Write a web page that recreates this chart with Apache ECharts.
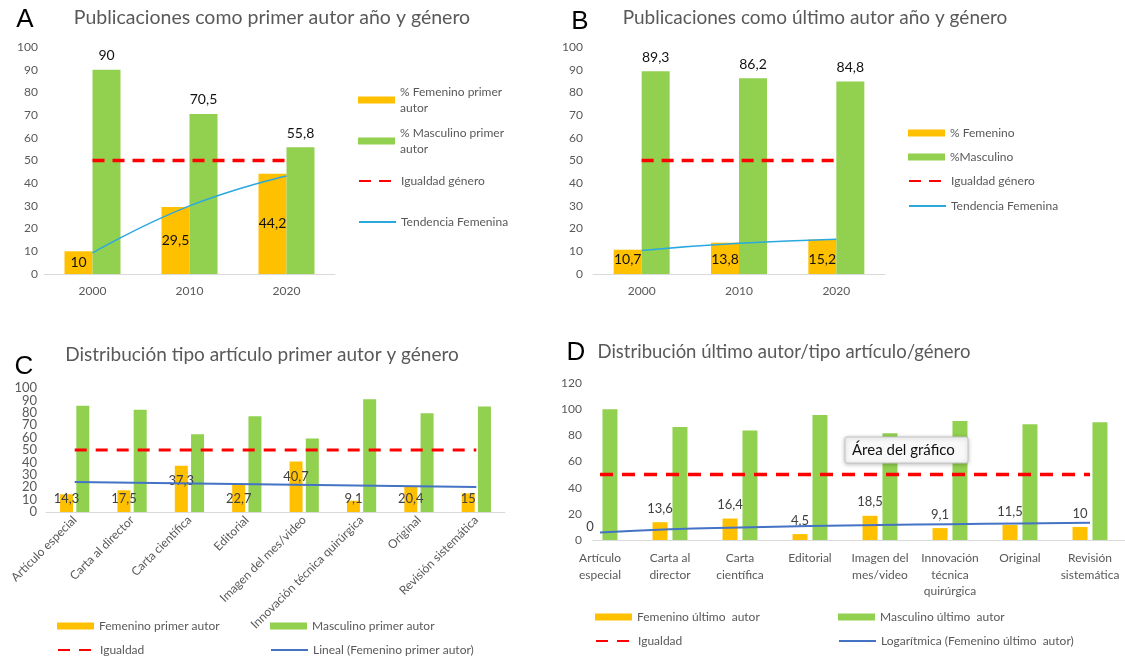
<!DOCTYPE html>
<html><head><meta charset="utf-8">
<script src="https://cdn.jsdelivr.net/npm/echarts@6/dist/echarts.min.js"></script>
<style>html,body{margin:0;padding:0;background:#fff}#c{width:1125px;height:661px}</style>
</head><body><div id="c"></div>
<script>
// ---- data ----
const years = ['2000', '2010', '2020'];
const femFirstYear = [10, 29.5, 44.2];
const mascFirstYear = [90, 70.5, 55.8];
const trendFirstYear = [9.3, 30, 43.2];
const femLastYear = [10.7, 13.8, 15.2];
const mascLastYear = [89.3, 86.2, 84.8];
const trendLastYear = [10.4, 13.5, 15.3];
const equalityYear = [50, 50, 50];

const articleTypes = ['Artículo especial', 'Carta al director', 'Carta científica', 'Editorial', 'Imagen del mes/video', 'Innovación técnica quirúrgica', 'Original', 'Revisión sistemática'];
const articleTypesWrapped = ['Artículo\nespecial', 'Carta al\ndirector', 'Carta\ncientífica', 'Editorial', 'Imagen del\nmes/video', 'Innovación\ntécnica\nquirúrgica', 'Original', 'Revisión\nsistemática'];
const femFirstType = [14.3, 17.5, 37.3, 22.7, 40.7, 9.1, 20.4, 15];
const mascFirstType = [85.7, 82.5, 62.7, 77.3, 59.3, 90.9, 79.6, 85];
const linearFirstType = [24.1, null, null, null, null, null, null, 20.2];
const femLastType = [0, 13.6, 16.4, 4.5, 18.5, 9.1, 11.5, 10];
const mascLastType = [100, 86.4, 83.6, 95.5, 81.5, 90.9, 88.5, 90];
const logLastType = [5.8, 8.2, 9.6, 10.7, 11.5, 12.1, 12.7, 13.2];
const equalityType = [50, 50, 50, 50, 50, 50, 50, 50];

// ---- styles ----
const FONT = 'Lato, "Open Sans", sans-serif';
const YEL = '#FFC000', GRN = '#92D050', RED = '#FF0000', LBLUE = '#2AA8E0', DBLUE = '#4472C4', GRAY = '#595959', AX = '#d9d9d9';
const fmt = v => String(v).replace('.', ',');

function lg(name, left, cy, o) {
  o = o || {};
  const two = !!o.label && o.label.indexOf('\n') >= 0;
  const item = { name: name };
  if (o.icon) item.icon = o.icon; else item.itemStyle = { opacity: 0 };
  const L = {
    data: [item], left: left, top: cy - (two ? 24 : 8), padding: 0,
    itemWidth: 37, itemHeight: 7, itemGap: 0, selectedMode: false,
    textStyle: { fontFamily: FONT, fontSize: o.fs || 12, color: GRAY, lineHeight: 16, padding: two ? [16, 0, 0, 0] : 0 }
  };
  if (o.label) L.formatter = () => o.label;
  return L;
}
function title(text, x, y, size, color, family) {
  return { text: text, left: x, top: y, textAlign: 'center', padding: 0,
    textStyle: { fontSize: size, fontWeight: 'normal', color: color, fontFamily: family || FONT } };
}
function catAxis(grid, data, extra) {
  return Object.assign({ type: 'category', gridIndex: grid, data: data, axisTick: { show: false },
    axisLine: { lineStyle: { color: AX, width: 1 } },
    axisLabel: { color: GRAY, fontSize: 12, fontFamily: FONT, margin: 11, interval: 0 } }, extra || {});
}
function valAxis(grid, max, interval, margin, fs) {
  return { type: 'value', gridIndex: grid, position: 'left', offset: 0, min: 0, max: max, interval: interval,
    splitLine: { show: false }, axisLine: { show: false }, axisTick: { show: false },
    axisLabel: { color: GRAY, fontSize: fs || 12, fontFamily: FONT, margin: margin, showMinLabel: true, showMaxLabel: true } };
}
const eqStyle = (w, d) => ({ type: 'line', symbol: 'none', lineStyle: { color: RED, width: w, type: d }, itemStyle: { color: RED }, z: 3 });
const LETTER = '"Liberation Sans", Arial, sans-serif';

// panel C: even tens on one axis, odd tens on an overlaid twin axis (labels are packed tightly)
const yC = valAxis(2, 100, 20, 9, 13);
const yCodd = valAxis(2, 100, 10, 9, 13);
yCodd.axisLabel.showMinLabel = false;
yCodd.axisLabel.showMaxLabel = false;
yCodd.axisLabel.formatter = v => ((v / 10) % 2 === 1 ? String(v) : '');

const option = {
  animation: false,
  backgroundColor: '#fff',
  title: [
    title('A', 25, 7, 26, '#000', LETTER),
    title('Publicaciones como primer autor año y género', 272, 8, 19.5, GRAY),
    title('B', 580, 9, 26, '#000', LETTER),
    title('Publicaciones como último autor año y género', 815, 8, 19, GRAY),
    title('C', 24, 354, 26, '#000', LETTER),
    title('Distribución tipo artículo primer autor y género', 262, 345, 19, GRAY),
    title('D', 576, 340, 26, '#000', LETTER),
    title('Distribución último autor/tipo artículo/género', 784, 343, 18.5, GRAY)
  ],
  legend: [
    lg('% Femenino primer autor', 358, 100, { icon: 'rect', label: '% Femenino primer\nautor' }),
    lg('% Masculino primer autor', 358, 141, { icon: 'rect', label: '% Masculino primer\nautor' }),
    lg('Igualdad género', 358, 181),
    lg('Tendencia Femenina', 358, 222),
    lg('% Femenino', 908, 133, { icon: 'rect' }),
    lg('%Masculino', 908, 157, { icon: 'rect' }),
    lg('Igualdad género', 908, 181),
    lg('Tendencia Femenina', 908, 206),
    lg('Femenino primer autor', 57, 626, { icon: 'rect' }),
    lg('Masculino primer autor', 270, 626, { icon: 'rect' }),
    lg('Igualdad', 57, 650),
    lg('Lineal (Femenino primer autor)', 270, 650),
    lg('Femenino último  autor', 595, 617, { icon: 'rect' }),
    lg('Masculino último  autor', 838, 617, { icon: 'rect' }),
    lg('Igualdad', 595, 641),
    lg('Logarítmica (Femenino último  autor)', 838, 641)
  ],
  grid: [
    { left: 44, top: 47, width: 291, height: 227 },
    { left: 593, top: 47, width: 292, height: 227 },
    { left: 46, top: 388, width: 459, height: 124 },
    { left: 565, top: 383, width: 560, height: 157 },
    { left: 593, top: 383, width: 532, height: 157 }
  ],
  xAxis: [
    catAxis(0, years),
    catAxis(1, years),
    catAxis(2, articleTypes, { axisLabel: { color: GRAY, fontSize: 12, fontFamily: FONT, margin: 6, interval: 0, rotate: 45 } }),
    catAxis(3, articleTypesWrapped, { axisLine: { show: false }, axisLabel: { color: GRAY, fontSize: 12, fontFamily: FONT, margin: 10, interval: 0, lineHeight: 16.5 } }),
    catAxis(4, articleTypes, { axisLabel: { show: false } })
  ],
  yAxis: [
    valAxis(0, 100, 10, 6),
    valAxis(1, 100, 10, 10),
    yC,
    valAxis(3, 120, 20, -17),
    Object.assign(valAxis(4, 120, 20, 0), { show: false }),
    yCodd
  ],
  series: [
    // A
    { type: 'bar', name: '% Femenino primer autor', xAxisIndex: 0, yAxisIndex: 0, data: femFirstYear, barWidth: 28, barGap: '0%', itemStyle: { color: YEL },
      label: { show: true, position: 'inside', formatter: p => fmt(p.value), fontSize: 14, color: '#111', fontFamily: FONT } },
    { type: 'bar', name: '% Masculino primer autor', xAxisIndex: 0, yAxisIndex: 0, data: mascFirstYear, barWidth: 28, barGap: '0%', itemStyle: { color: GRN },
      label: { show: true, position: 'top', distance: 7, formatter: p => fmt(p.value), fontSize: 14, color: '#111', fontFamily: FONT } },
    Object.assign(eqStyle(3.5, [12, 8]), { name: 'Igualdad género', xAxisIndex: 0, yAxisIndex: 0, data: equalityYear }),
    { type: 'line', name: 'Tendencia Femenina', xAxisIndex: 0, yAxisIndex: 0, data: trendFirstYear, smooth: true, symbol: 'none', lineStyle: { color: LBLUE, width: 1.5 }, itemStyle: { color: LBLUE }, z: 4 },
    // B
    { type: 'bar', name: '% Femenino', xAxisIndex: 1, yAxisIndex: 1, data: femLastYear, barWidth: 28, barGap: '0%', itemStyle: { color: YEL },
      label: { show: true, position: 'insideBottom', distance: 8, formatter: p => fmt(p.value), fontSize: 14, color: '#111', fontFamily: FONT } },
    { type: 'bar', name: '%Masculino', xAxisIndex: 1, yAxisIndex: 1, data: mascLastYear, barWidth: 28, barGap: '0%', itemStyle: { color: GRN },
      label: { show: true, position: 'top', distance: 7, formatter: p => fmt(p.value), fontSize: 14, color: '#111', fontFamily: FONT } },
    Object.assign(eqStyle(3.5, [12, 8]), { name: 'Igualdad género', xAxisIndex: 1, yAxisIndex: 1, data: equalityYear }),
    { type: 'line', name: 'Tendencia Femenina', xAxisIndex: 1, yAxisIndex: 1, data: trendLastYear, smooth: true, symbol: 'none', lineStyle: { color: LBLUE, width: 1.5 }, itemStyle: { color: LBLUE }, z: 4 },
    // C
    { type: 'bar', name: 'Femenino primer autor', xAxisIndex: 2, yAxisIndex: 2, barWidth: 13, barGap: '25%', itemStyle: { color: YEL },
      data: femFirstType.map(v => ({ value: v, label: { position: v > 30 ? 'insideTop' : 'insideBottom', distance: v > 30 ? 9 : 7 } })),
      label: { show: true, formatter: p => fmt(p.value), fontSize: 13, color: '#404040', fontFamily: FONT } },
    { type: 'bar', name: 'Masculino primer autor', xAxisIndex: 2, yAxisIndex: 2, data: mascFirstType, barWidth: 13, barGap: '25%', itemStyle: { color: GRN } },
    Object.assign(eqStyle(3, [12, 9]), { name: 'Igualdad', xAxisIndex: 2, yAxisIndex: 2, data: equalityType }),
    { type: 'line', name: 'Lineal (Femenino primer autor)', xAxisIndex: 2, yAxisIndex: 2, data: linearFirstType, connectNulls: true, symbol: 'none', lineStyle: { color: DBLUE, width: 2 }, itemStyle: { color: DBLUE }, z: 4 },
    // D
    { type: 'bar', name: 'Femenino último  autor', xAxisIndex: 3, yAxisIndex: 3, data: femLastType, barWidth: 15, barGap: '33%', itemStyle: { color: YEL },
      label: { show: true, position: 'top', distance: 7, formatter: p => fmt(p.value), fontSize: 13, color: '#404040', fontFamily: FONT } },
    { type: 'bar', name: 'Masculino último  autor', xAxisIndex: 3, yAxisIndex: 3, data: mascLastType, barWidth: 15, barGap: '33%', itemStyle: { color: GRN } },
    Object.assign(eqStyle(3.5, [13, 9]), { name: 'Igualdad', xAxisIndex: 3, yAxisIndex: 3, data: equalityType }),
    { type: 'line', name: 'Logarítmica (Femenino último  autor)', xAxisIndex: 3, yAxisIndex: 3, data: logLastType, smooth: true, symbol: 'none', lineStyle: { color: DBLUE, width: 2 }, itemStyle: { color: DBLUE }, z: 4 }
  ],
  graphic: [
    { type: 'rect', shape: { x: 845, y: 437, width: 123, height: 26, r: 2 }, z: 100,
      style: { fill: '#f8f8f8', stroke: '#c4c4c4', lineWidth: 1, shadowBlur: 4, shadowOffsetY: 1, shadowColor: 'rgba(0,0,0,0.25)' } },
    { type: 'text', x: 852, y: 450.5, z: 101,
      style: { text: 'Área del gráfico', fontSize: 15, fontFamily: FONT, fill: '#111', verticalAlign: 'middle' } }
  ]
};
const chart = echarts.init(document.getElementById('c'));
chart.setOption(option);
</script>
</body></html>
